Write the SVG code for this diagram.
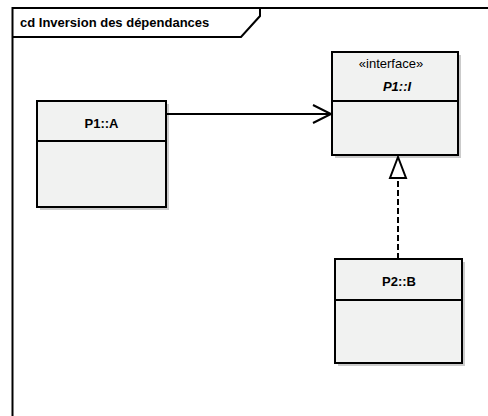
<svg xmlns="http://www.w3.org/2000/svg" width="488" height="416" viewBox="0 0 488 416">
<style>
  .box { fill: #f1f2f1; stroke: #000; stroke-width: 2; }
  .shadow { fill: #cbcbcb; }
  .div { stroke: #000; stroke-width: 2; }
  .lbl { font-family: "Liberation Sans", Arial, sans-serif; font-size: 13px; font-weight: bold; fill: #000; text-anchor: middle; }
  .ster { font-family: "Liberation Sans", Arial, sans-serif; font-size: 13px; fill: #000; text-anchor: middle; }
  .conn { stroke: #000; stroke-width: 2; fill: none; }
</style>
<rect width="488" height="416" fill="#fff"/>
<g id="frame">
  <path d="M12.5,416 L12.5,8 L488,8" fill="none" stroke="#000" stroke-width="2"/>
  <path d="M12.5,37 L241,37 L260,16 L260,8" fill="none" stroke="#000" stroke-width="2"/>
  <text x="20" y="27" style="font-family:'Liberation Sans',Arial,sans-serif;font-size:13px;font-weight:bold;">cd Inversion des dépendances</text>
</g>
<g id="A">
  <rect class="shadow" x="40" y="104" width="129" height="106"/>
  <rect class="box" x="37" y="101" width="129" height="106"/>
  <line class="div" x1="37" y1="141" x2="166" y2="141"/>
  <text class="lbl" x="101.5" y="128">P1::A</text>
</g>
<g id="I">
  <rect class="shadow" x="335" y="55" width="126" height="103"/>
  <rect class="box" x="332" y="52" width="126" height="103"/>
  <line class="div" x1="332" y1="101" x2="458" y2="101"/>
  <text class="ster" x="391" y="68">«interface»</text>
  <text class="lbl" x="397" y="91" font-style="italic">P1::I</text>
</g>
<g id="B">
  <rect class="shadow" x="338" y="262" width="127" height="104"/>
  <rect class="box" x="335" y="259" width="127" height="104"/>
  <line class="div" x1="335" y1="300" x2="462" y2="300"/>
  <text class="lbl" x="399" y="286">P2::B</text>
</g>
<g id="connectors">
  <line class="conn" x1="166" y1="114" x2="331" y2="114"/>
  <polyline class="conn" points="313,105 331,114 313,123"/>
  <line class="conn" x1="398" y1="259" x2="398" y2="179" stroke-dasharray="6,3"/>
  <polygon points="398,157 390,178 406,178" fill="#fff" stroke="#000" stroke-width="2"/>
</g>
</svg>
